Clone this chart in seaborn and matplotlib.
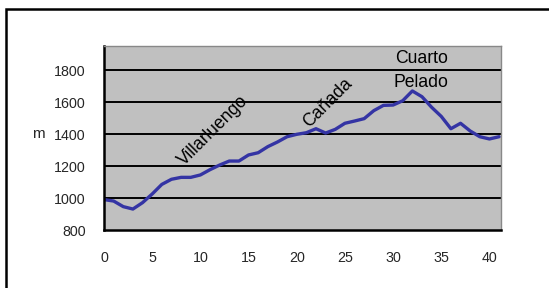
import matplotlib
matplotlib.use("Agg")
import matplotlib.pyplot as plt
from matplotlib.patches import Rectangle
import seaborn as sns
import pandas as pd

km = list(range(0, 42))
altitude = [990, 981, 946, 931, 971, 1025, 1085, 1117, 1129, 1129,
            1144, 1177, 1206, 1231, 1231, 1269, 1283, 1321, 1350, 1383,
            1398, 1408, 1433, 1406, 1429, 1467, 1481, 1496, 1546, 1579,
            1581, 1608, 1669, 1633, 1567, 1510, 1433, 1467, 1419, 1383,
            1369, 1383]
y_ticks = [800, 1000, 1200, 1400, 1600, 1800]
x_ticks = [0, 5, 10, 15, 20, 25, 30, 35, 40]
labels = ["Villarluengo", "Cañada", "Cuarto", "Pelado"]
label_x = [11.3, 23.2, 33.0, 32.9]
label_y = [1419, 1594, 1869, 1719]
label_rot = [45, 45, 0, 0]

df = pd.DataFrame({"km": km, "alt": altitude})

sns.set_style("white")
plt.rcParams['font.family'] = ['Liberation Sans', 'DejaVu Sans']

fig = plt.figure(figsize=(5.49, 2.88), dpi=100)
ax = fig.add_axes([104/549, 1-230/288, (501-104)/549, (230-46)/288])
ax.set_facecolor("#c0c0c0")

sns.lineplot(data=df, x="km", y="alt", ax=ax, color="#3434a4", linewidth=2.4)

ax.set_xlim(0, 41.2)
ax.set_ylim(800, 1950)
ax.set_yticks(y_ticks)
ax.set_xticks(x_ticks)
ax.set_yticklabels([str(v) for v in y_ticks], fontsize=10.3)
ax.set_xticklabels([str(v) for v in x_ticks], fontsize=10.3)
ax.tick_params(axis="both", length=0)
ax.tick_params(axis="y", pad=13)
ax.tick_params(axis="x", pad=15)
ax.set_xlabel("")
ax.set_ylabel("")
for v in y_ticks[1:]:
    ax.axhline(v, color="black", linewidth=1.4, zorder=1)
ax.grid(False)

for s in ["left", "bottom"]:
    ax.spines[s].set_color("black")
    ax.spines[s].set_linewidth(1.8)
for s in ["top", "right"]:
    ax.spines[s].set_color("#888888")
    ax.spines[s].set_linewidth(1.0)
    ax.spines[s].set_visible(True)

for t, x, y, r in zip(labels, label_x, label_y, label_rot):
    ax.text(x, y, t, rotation=r, ha="center", va="center", fontsize=12.7,
            rotation_mode="anchor", color="black", zorder=5)

fig.text(38/549, 1-134/288, "m", ha="center", va="center", fontsize=11)

fig.add_artist(Rectangle((6/549, -0.5), 2, 1.5 - 9/288, transform=fig.transFigure,
                         fill=False, edgecolor="black", linewidth=1.8))

fig.savefig("out.png", dpi=100)
